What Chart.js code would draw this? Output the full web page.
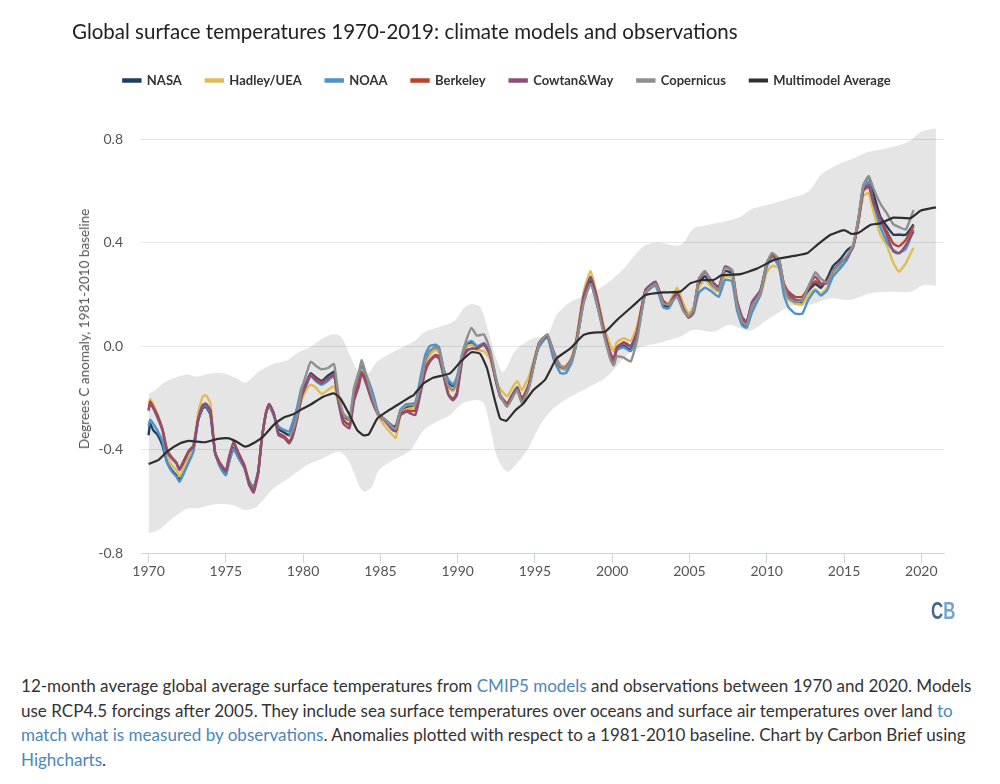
<!DOCTYPE html>
<html>
<head>
<meta charset="utf-8">
<title>Global surface temperatures 1970-2019</title>
<script src="https://cdn.jsdelivr.net/npm/chart.js@4"></script>
<style>
  html, body { margin: 0; padding: 0; background: #fff; }
  body { position: relative; width: 1000px; height: 784px; overflow: hidden; font-family: Lato, sans-serif; color: #333; }
  #chart-box { position: absolute; left: 0; top: 0; width: 1000px; height: 640px; }
  h1 { position: absolute; left: 72px; top: 17px; margin: 0; font-size: 20.5px; line-height: 28px; font-weight: 400; color: #222; white-space: nowrap; }
  #y-title { position: absolute; left: 84px; top: 329px; transform: translate(-50%, -50%) rotate(-90deg); font-size: 13.5px; color: #555; white-space: nowrap; }
  #logo { position: absolute; left: 931px; top: 597px; font: bold 24px "Liberation Sans", sans-serif; color: #41698c; transform: scaleX(0.7); transform-origin: left top; }
  #logo span { color: #6fa5d2; }
  #caption { position: absolute; left: 21px; top: 674px; font-size: 17.05px; line-height: 24.6px; color: #333; white-space: nowrap; }
  #caption a { color: #4c87b9; text-decoration: none; }
</style>
</head>
<body>
<div id="chart-box"><canvas id="tempChart"></canvas></div>
<h1>Global surface temperatures 1970-2019: climate models and observations</h1>
<div id="y-title">Degrees C anomaly, 1981-2010 baseline</div>
<div id="logo">C<span>B</span></div>
<div id="caption">
12-month average global average surface temperatures from <a href="#">CMIP5 models</a> and observations between 1970 and 2020. Models<br>
use RCP4.5 forcings after 2005. They include sea surface temperatures over oceans and surface air temperatures over land <a href="#">to</a><br>
<a href="#">match what is measured by observations</a>. Anomalies plotted with respect to a 1981-2010 baseline. Chart by Carbon Brief using<br>
<a href="#">Highcharts</a>.
</div>
<script>
// Tick labels
const xTickYears = [1970, 1975, 1980, 1985, 1990, 1995, 2000, 2005, 2010, 2015, 2020];
const yTickValues = [-0.8, -0.4, 0, 0.4, 0.8];

// Observation dates, shared by all the observed series
const obsYears = [
  1970.0,1970.1,1970.3,1970.6,1970.9,1971.2,1971.5,1971.8,1972.0,1972.3,
  1972.6,1972.9,1973.2,1973.5,1973.7,1974.0,1974.3,1974.6,1975.0,1975.2,
  1975.5,1975.8,1976.2,1976.5,1976.8,1977.1,1977.3,1977.6,1977.8,1978.1,
  1978.4,1978.8,1979.1,1979.3,1979.6,1979.9,1980.3,1980.5,1980.8,1981.2,
  1981.6,1982.0,1982.3,1982.6,1983.0,1983.3,1983.6,1983.8,1984.1,1984.5,
  1984.9,1985.3,1985.8,1986.0,1986.3,1986.7,1987.25,1987.6,1987.9,1988.2,
  1988.55,1988.8,1989.1,1989.4,1989.7,1989.95,1990.3,1990.6,1990.9,1991.25,
  1991.7,1992.1,1992.45,1992.75,1993.2,1993.5,1993.85,1994.15,1994.6,1994.9,
  1995.25,1995.8,1996.2,1996.65,1997.0,1997.4,1997.7,1998.15,1998.6,1999.0,
  1999.45,1999.9,2000.1,2000.3,2000.75,2001.2,2001.6,2002.15,2002.8,2003.3,
  2003.65,2004.2,2004.6,2004.95,2005.26,2005.6,2006.0,2006.45,2006.9,2007.3,
  2007.75,2008.07,2008.4,2008.7,2009.05,2009.6,2010.0,2010.35,2010.8,2011.1,
  2011.4,2011.85,2012.3,2012.7,2013.15,2013.5,2013.9,2014.3,2014.75,2015.2,
  2015.6,2015.95,2016.25,2016.6,2016.9,2017.35,2017.8,2018.2,2018.55,2019.0,
  2019.5
];

const nasa = [
  -.345,-.30,-.325,-.345,-.385,-.45,-.48,-.50,-.515,-.48,
  -.44,-.40,-.29,-.24,-.235,-.265,-.41,-.46,-.495,-.45,
  -.395,-.43,-.47,-.525,-.545,-.485,-.37,-.26,-.225,-.265,
  -.32,-.335,-.345,-.32,-.255,-.175,-.125,-.105,-.12,-.135,
  -.115,-.10,-.205,-.27,-.285,-.18,-.12,-.085,-.13,-.195,
  -.27,-.285,-.31,-.31,-.25,-.235,-.23,-.135,-.05,-.02,
  -.005,-.02,-.095,-.14,-.155,-.13,-.035,.0,.015,-.01,
  .01,-.03,-.125,-.19,-.225,-.195,-.16,-.205,-.155,-.08,
  .0,.04,-.03,-.085,-.09,-.05,.015,.175,.25,.165,
  .06,-.035,-.055,-.015,.0,-.015,.04,.205,.235,.16,
  .15,.205,.145,.115,.13,.24,.27,.235,.215,.29,
  .28,.155,.09,.075,.15,.215,.315,.355,.33,.23,
  .19,.165,.17,.215,.24,.225,.26,.31,.335,.37,
  .39,.50,.62,.655,.59,.50,.46,.43,.43,.43,
  .47
];
const hadley = [
  -.235,-.205,-.225,-.27,-.33,-.42,-.46,-.48,-.505,-.47,
  -.43,-.40,-.26,-.195,-.19,-.22,-.41,-.46,-.495,-.45,
  -.40,-.43,-.46,-.52,-.55,-.48,-.37,-.26,-.235,-.26,
  -.335,-.35,-.37,-.35,-.285,-.21,-.16,-.15,-.16,-.185,
  -.17,-.155,-.225,-.27,-.275,-.19,-.125,-.085,-.14,-.215,
  -.275,-.31,-.345,-.355,-.27,-.245,-.235,-.15,-.07,-.035,
  -.015,-.025,-.10,-.16,-.175,-.145,-.04,.0,.005,-.015,
  -.02,-.05,-.125,-.165,-.195,-.165,-.135,-.17,-.12,-.06,
  .01,.045,-.03,-.085,-.09,-.04,.04,.21,.29,.20,
  .08,.0,-.02,.015,.03,.02,.075,.21,.235,.17,
  .165,.225,.165,.125,.15,.225,.255,.225,.21,.265,
  .265,.165,.105,.09,.15,.195,.285,.31,.30,.22,
  .18,.165,.16,.20,.22,.20,.225,.28,.31,.345,
  .395,.48,.58,.59,.52,.43,.385,.32,.287,.32,
  .38
];
const noaa = [
  -.31,-.285,-.30,-.33,-.37,-.45,-.485,-.505,-.525,-.49,
  -.45,-.41,-.29,-.235,-.23,-.26,-.41,-.465,-.50,-.45,
  -.40,-.43,-.47,-.52,-.55,-.48,-.37,-.26,-.23,-.27,
  -.31,-.325,-.33,-.30,-.24,-.16,-.125,-.115,-.135,-.15,
  -.135,-.115,-.205,-.265,-.28,-.17,-.11,-.075,-.115,-.18,
  -.265,-.285,-.315,-.325,-.245,-.225,-.22,-.12,-.035,.0,
  .005,-.005,-.09,-.13,-.15,-.12,-.03,.01,.02,.0,
  .01,-.03,-.12,-.19,-.225,-.19,-.16,-.205,-.15,-.07,
  -.005,.035,-.05,-.105,-.105,-.06,.015,.17,.24,.165,
  .06,-.035,-.05,-.015,-.005,-.02,.03,.205,.235,.15,
  .145,.20,.14,.11,.125,.205,.225,.21,.19,.255,
  .25,.14,.08,.07,.13,.20,.305,.345,.305,.20,
  .15,.125,.125,.18,.215,.195,.215,.27,.30,.335,
  .39,.495,.61,.635,.555,.46,.40,.37,.36,.375,
  .45
];
const berkeley = [
  -.25,-.215,-.235,-.27,-.32,-.40,-.43,-.45,-.475,-.44,
  -.405,-.385,-.285,-.23,-.225,-.25,-.41,-.45,-.48,-.43,
  -.375,-.41,-.46,-.53,-.56,-.485,-.37,-.255,-.225,-.26,
  -.335,-.35,-.37,-.35,-.28,-.19,-.135,-.11,-.125,-.14,
  -.125,-.11,-.215,-.285,-.305,-.20,-.14,-.10,-.14,-.215,
  -.265,-.285,-.315,-.32,-.26,-.25,-.25,-.165,-.085,-.055,
  -.035,-.04,-.115,-.185,-.205,-.18,-.05,-.015,-.01,-.01,
  .005,-.035,-.125,-.19,-.222,-.195,-.16,-.205,-.15,-.075,
  .005,.04,-.025,-.08,-.08,-.045,.025,.19,.265,.185,
  .065,-.03,-.05,-.005,.015,.0,.055,.215,.245,.175,
  .16,.205,.14,.11,.135,.255,.285,.25,.225,.305,
  .29,.17,.105,.09,.165,.21,.315,.35,.325,.24,
  .21,.19,.19,.225,.25,.235,.25,.29,.32,.345,
  .385,.49,.60,.615,.56,.49,.44,.395,.385,.41,
  .465
];
const cowtanWay = [
  -.247,-.224,-.24,-.28,-.325,-.41,-.434,-.454,-.48,-.447,
  -.41,-.39,-.286,-.228,-.222,-.247,-.415,-.454,-.486,-.434,
  -.37,-.415,-.466,-.537,-.566,-.492,-.376,-.26,-.224,-.26,
  -.344,-.357,-.376,-.355,-.286,-.196,-.138,-.112,-.13,-.144,
  -.125,-.112,-.222,-.30,-.318,-.21,-.157,-.106,-.15,-.22,
  -.27,-.29,-.325,-.33,-.267,-.254,-.267,-.183,-.10,-.06,
  -.04,-.048,-.119,-.19,-.21,-.19,-.054,-.02,-.01,-.01,
  .008,-.035,-.13,-.196,-.228,-.20,-.165,-.215,-.157,-.08,
  .01,.043,-.02,-.08,-.086,-.048,.023,.19,.268,.19,
  .062,-.04,-.06,-.01,.01,-.003,.05,.217,.249,.17,
  .158,.21,.146,.113,.139,.255,.287,.249,.229,.307,
  .294,.178,.113,.094,.171,.216,.32,.358,.332,.242,
  .204,.178,.178,.229,.268,.242,.242,.294,.32,.345,
  .384,.487,.603,.622,.552,.487,.423,.365,.358,.39,
  .442
];
// Copernicus only starts in 1979, so it lines up with obsYears from index 32
const copernicusStart = 32;
const copernicus = [
  -.35,-.33,-.27,-.17,-.09,-.06,-.075,-.09,
  -.085,-.07,-.195,-.26,-.285,-.16,-.10,-.055,-.115,-.20,
  -.27,-.285,-.315,-.32,-.25,-.23,-.225,-.15,-.06,-.02,
  -.005,-.015,-.10,-.155,-.17,-.14,-.03,.03,.07,.04,
  .045,-.015,-.115,-.19,-.235,-.205,-.17,-.22,-.165,-.085,
  .005,.045,-.025,-.075,-.085,-.05,.015,.165,.24,.165,
  .045,-.055,-.075,-.04,-.045,-.06,.02,.205,.24,.165,
  .16,.19,.135,.115,.14,.26,.29,.24,.215,.30,
  .295,.16,.095,.08,.155,.205,.32,.36,.335,.235,
  .185,.17,.175,.23,.285,.26,.245,.29,.315,.35,
  .39,.50,.62,.655,.61,.55,.51,.47,.46,.45,
  .525
];

// Multimodel average
const meanYears = [
  1970,1970.65,1971.2,1972.05,1972.6,1973.65,1974.4,1975.2,1975.7,1976.25,
  1976.9,1977.45,1978.1,1978.75,1979.4,1979.9,1980.55,1981.3,1982,1982.4,
  1982.95,1983.5,1983.9,1984.25,1984.8,1985.4,1986.1,1986.95,1987.15,1987.8,
  1988.45,1989.5,1990.2,1990.9,1991.45,1991.9,1992.35,1992.75,1993.15,1993.75,
  1994.25,1994.9,1995.65,1996.4,1997.3,1998.15,1998.8,1999.55,2000.3,2001.4,
  2002.15,2003.3,2004.4,2005.05,2005.8,2006.55,2007.1,2008.3,2009.4,2010.45,
  2010.87,2011.75,2012.6,2013.25,2014.1,2015,2015.5,2015.95,2016.7,2017.35,
  2018.2,2019.3,2019.95,2020.95
];
const meanValues = [
  -.456,-.44,-.408,-.376,-.367,-.372,-.36,-.357,-.37,-.389,
  -.372,-.348,-.305,-.276,-.263,-.245,-.224,-.196,-.183,-.202,
  -.26,-.325,-.345,-.341,-.28,-.254,-.228,-.196,-.19,-.144,
  -.122,-.106,-.06,-.024,-.03,-.086,-.196,-.28,-.289,-.247,
  -.222,-.17,-.131,-.048,-.009,.043,.052,.055,.10,.158,
  .197,.207,.21,.242,.255,.255,.274,.278,.30,.332,
  .339,.348,.358,.39,.429,.448,.433,.438,.468,.474,
  .496,.494,.523,.536
];

// Model range, upper and lower edge
const upperYears = [
  1970,1970.55,1971,1971.6,1972.5,1973.1,1974,1974.85,1975.7,1976.25,
  1977.1,1977.9,1979,1979.6,1980.5,1981.1,1981.8,1982.3,1982.65,1983.05,
  1983.6,1984.2,1984.8,1985.85,1987.15,1987.9,1989,1989.85,1990.4,1990.9,
  1991.45,1991.9,1992.45,1992.9,1993.2,1993.75,1994.9,1995.8,1996.4,1997.3,
  1998.6,1999.65,2000.75,2002,2002.9,2004.4,2005.26,2005.9,2007.2,2008.28,
  2009.15,2010.45,2011.5,2012.7,2013.5,2014.55,2015.6,2016.5,2017.8,2019.07,
  2020.05,2020.95
];
const upperValues = [
  -.186,-.164,-.142,-.125,-.11,-.119,-.106,-.106,-.125,-.142,
  -.10,-.073,-.054,-.028,-.003,.023,.043,.043,.017,-.04,
  -.10,-.106,-.06,-.022,.017,.055,.077,.10,.146,.162,
  .152,.075,-.04,-.10,-.08,-.015,.03,.043,.12,.17,
  .204,.242,.30,.384,.40,.39,.455,.465,.48,.50,
  .532,.552,.571,.597,.661,.70,.725,.749,.764,.786,
  .829,.842
];
const lowerYears = [
  1970,1970.65,1971.4,1972.5,1973.1,1974.4,1975.5,1976.25,1977,1978.1,
  1979.2,1980.25,1981.3,1982.3,1982.85,1983.3,1983.7,1984,1984.45,1984.9,
  1985.65,1986.95,1987.8,1988.65,1989.5,1990.3,1991.25,1991.7,1992.1,1992.55,
  1993.2,1993.75,1994.5,1995.35,1996.2,1997.3,1998.35,1999.65,2000.95,2001.9,
  2002.9,2004.4,2005.26,2006.55,2007.6,2008.9,2010,2011.5,2012.8,2014.1,
  2015.4,2016.7,2018,2019.3,2020.15,2020.95
];
const lowerValues = [
  -.724,-.711,-.673,-.628,-.628,-.611,-.615,-.634,-.621,-.55,
  -.505,-.46,-.434,-.408,-.434,-.492,-.55,-.563,-.544,-.48,
  -.447,-.402,-.325,-.293,-.267,-.222,-.209,-.222,-.312,-.428,
  -.486,-.46,-.402,-.305,-.241,-.196,-.164,-.119,-.035,-.003,
  .01,.036,.062,.055,.081,.059,.10,.152,.159,.184,
  .178,.204,.21,.21,.236,.232
];

function toPoints(xs, ys) {
  return ys.map((y, i) => ({ x: xs[i], y: y }));
}

// Lower order draws on top; the legend is put back in dataset order below
function lineSet(label, xs, ys, color, width, order) {
  return {
    label: label,
    data: toPoints(xs, ys),
    borderColor: color,
    backgroundColor: color,
    borderWidth: width,
    pointRadius: 0,
    tension: 0.15,
    fill: false,
    order: order
  };
}

const PAD_TOP = 50;

// Stretch the legend box so the plot starts just above the 0.8 gridline
const legendGap = {
  id: 'legendGap',
  beforeInit(chart) {
    const fit = chart.legend.fit;
    chart.legend.fit = function () {
      fit.bind(this)();
      this.height = 118.3 - PAD_TOP;
    };
  }
};

const ctx = document.getElementById('tempChart').getContext('2d');
new Chart(ctx, {
  type: 'line',
  plugins: [legendGap],
  data: {
    datasets: [
      lineSet('NASA', obsYears, nasa, '#1f3d60', 2.4, 6),
      lineSet('Hadley/UEA', obsYears, hadley, '#dfbc55', 2.4, 5),
      lineSet('NOAA', obsYears, noaa, '#4f91c8', 2.4, 4),
      lineSet('Berkeley', obsYears, berkeley, '#b9432d', 2.4, 3),
      lineSet('Cowtan&Way', obsYears, cowtanWay, '#8c5078', 2.4, 2),
      lineSet('Copernicus', obsYears.slice(copernicusStart), copernicus, '#8f8f8f', 2.4, 1),
      lineSet('Multimodel Average', meanYears, meanValues, '#2e2e2e', 2.2, 0),
      {
        label: 'Model range',
        data: toPoints(upperYears, upperValues),
        borderWidth: 0,
        pointRadius: 0,
        tension: 0.3,
        backgroundColor: 'rgba(0,0,0,0.1)',
        fill: '+1',
        order: 7
      },
      {
        label: 'Model range low',
        data: toPoints(lowerYears, lowerValues),
        borderWidth: 0,
        pointRadius: 0,
        tension: 0.3,
        fill: false,
        order: 8
      }
    ]
  },
  options: {
    responsive: true,
    maintainAspectRatio: false,
    animation: false,
    layout: { padding: { left: 70, right: 56, top: PAD_TOP, bottom: 0 } },
    plugins: {
      legend: {
        position: 'top',
        labels: {
          boxWidth: 17,
          boxHeight: 2,
          padding: 24,
          color: '#333',
          font: { family: 'Lato', size: 13, weight: 'bold' },
          filter: item => !item.text.startsWith('Model range'),
          sort: (a, b) => a.datasetIndex - b.datasetIndex
        }
      },
      tooltip: { enabled: false }
    },
    scales: {
      x: {
        type: 'linear',
        min: 1969.51,
        max: 2021.47,
        afterBuildTicks: axis => { axis.ticks = xTickYears.map(v => ({ value: v })); },
        afterFit: axis => { axis.height = 87; },
        ticks: {
          callback: v => String(v),
          autoSkip: false,
          maxRotation: 0,
          padding: 0,
          color: '#555',
          font: { family: 'Lato', size: 14 }
        },
        grid: { drawOnChartArea: false, color: '#ccd6eb', tickLength: 10 },
        border: { color: '#ccd6eb' }
      },
      y: {
        min: -0.8,
        max: 0.88,
        afterBuildTicks: axis => { axis.ticks = yTickValues.map(v => ({ value: v })); },
        afterFit: axis => { axis.width = 71; },
        ticks: {
          callback: v => v.toFixed(1),
          padding: 18,
          color: '#555',
          font: { family: 'Lato', size: 14 }
        },
        grid: { color: '#e6e6e6', tickLength: 0 },
        border: { display: false }
      }
    }
  }
});
</script>
</body>
</html>
